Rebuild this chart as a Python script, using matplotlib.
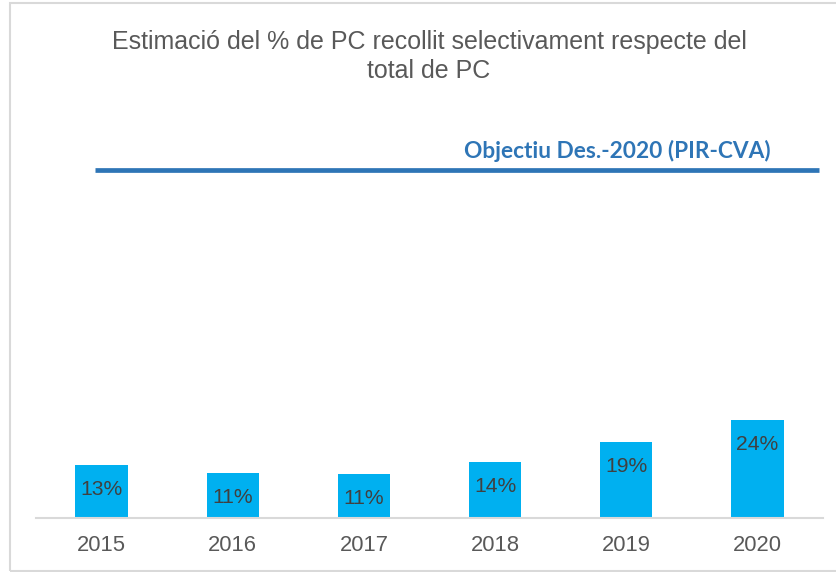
import matplotlib
matplotlib.use("Agg")
from matplotlib import pyplot
from matplotlib.patches import Rectangle

years = ["2015", "2016", "2017", "2018", "2019", "2020"]
shares = [0.129, 0.109, 0.108, 0.136, 0.186, 0.240]
target = 0.85
target_label = "Objectiu Des.-2020 (PIR-CVA)"
title = "Estimació del % de PC recollit selectivament respecte del\ntotal de PC"

pyplot.rcParams["font.family"] = ["Liberation Sans", "DejaVu Sans"]

fig = pyplot.figure(figsize=(8.37, 5.72), dpi=100)
axes = fig.add_axes([36/837, 54/572, 787/837, 409/572])

x = range(len(years))
bars = axes.bar(x, shares, width=0.40, color="#00B0F0", zorder=2)
for b, v in zip(bars, shares):
    axes.annotate(f"{v:.0%}", (b.get_x() + b.get_width()/2, v),
                  xytext=(0, -17.5), textcoords="offset points",
                  ha="center", va="center", fontsize=15.2, color="#404040")

axes.hlines(target, -0.053, 5.47, color="#2E75B6", lw=3.4, zorder=3)
axes.text(3.93, target + 0.048, target_label, ha="center", va="center",
          fontsize=16.3, fontweight="bold", color="#2E75B6", family="Lato")

axes.set_xlim(-0.5, 5.5)
axes.set_ylim(0, 1)
axes.set_xticks(list(x))
axes.set_xticklabels(years, fontsize=15.8, color="#595959")
axes.tick_params(axis="x", length=0, pad=12)
axes.set_yticks([])
for s in ("top", "right", "left"):
    axes.spines[s].set_visible(False)
axes.spines["bottom"].set_color("#d9d9d9")
axes.spines["bottom"].set_linewidth(1.5)

fig.text(429/837, 1 - 56.5/572, title, ha="center", va="center",
         fontsize=18, color="#595959", linespacing=1.25)

fig.patches.append(Rectangle((10/837, 1.5/572), 1.0, 568/572,
                             transform=fig.transFigure, fill=False,
                             edgecolor="#d9d9d9", lw=1.5))

fig.savefig("out.png", dpi=100)
